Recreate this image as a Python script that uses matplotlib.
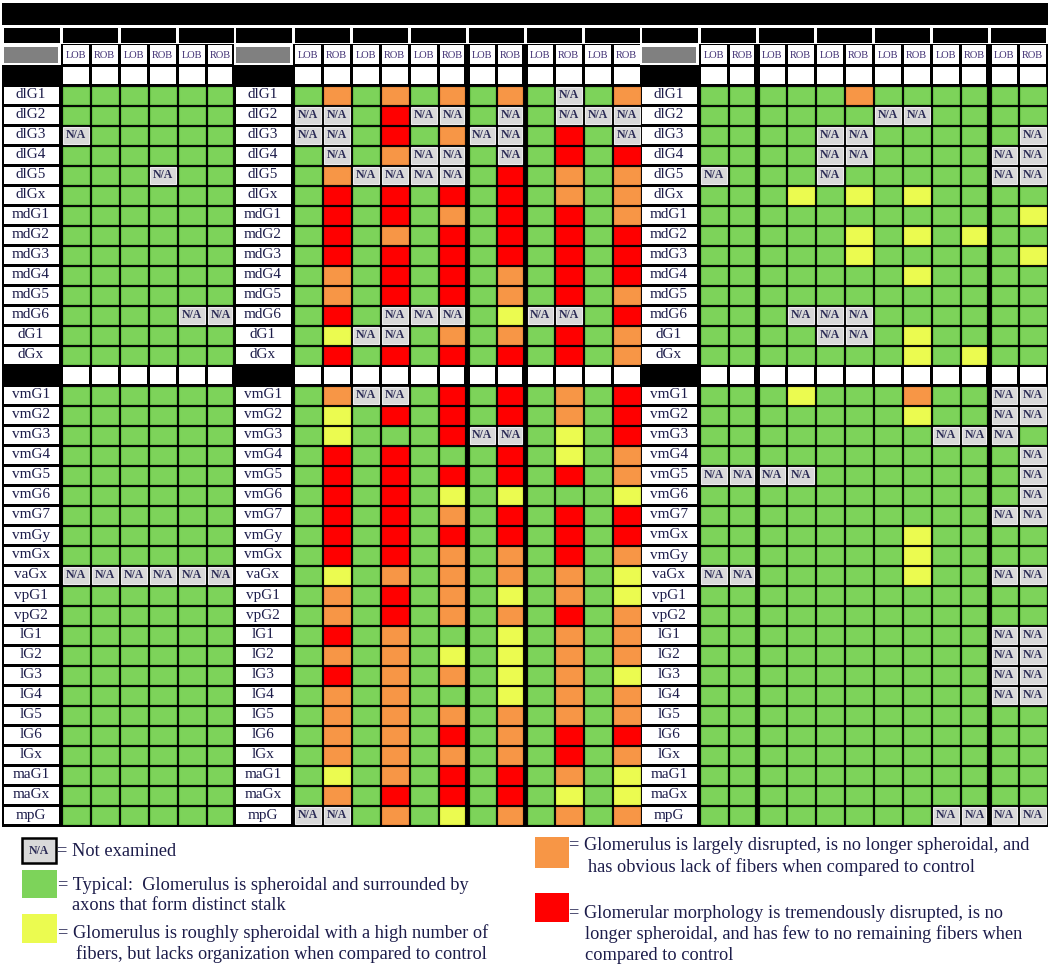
"""Glomerulus morphology scoring table (LOB/ROB per animal) with colour legend."""
import matplotlib.pyplot as plt
from matplotlib.patches import Rectangle

# row labels; the right panel lists vmGx before vmGy
ROWS_TOP = ["dlG1", "dlG2", "dlG3", "dlG4", "dlG5", "dlGx", "mdG1", "mdG2", "mdG3",
            "mdG4", "mdG5", "mdG6", "dG1", "dGx"]
ROWS_BOT = ["vmG1", "vmG2", "vmG3", "vmG4", "vmG5", "vmG6", "vmG7", "vmGy", "vmGx",
            "vaGx", "vpG1", "vpG2", "lG1", "lG2", "lG3", "lG4", "lG5", "lG6", "lGx",
            "maG1", "maGx", "mpG"]
ROWS_BOT_RIGHT = ["vmG1", "vmG2", "vmG3", "vmG4", "vmG5", "vmG6", "vmG7", "vmGx", "vmGy",
                  "vaGx", "vpG1", "vpG2", "lG1", "lG2", "lG3", "lG4", "lG5", "lG6", "lGx",
                  "maG1", "maGx", "mpG"]
SUBCOLS = ["LOB", "ROB"]

# G typical, Y roughly spheroidal, O largely disrupted, R tremendously disrupted, N not examined
LEFT = ["GGGGGG", "GGGGGG", "NGGGGG", "GGGGGG", "GGGNGG", "GGGGGG", "GGGGGG",
        "GGGGGG", "GGGGGG", "GGGGGG", "GGGGGG", "GGGGNN", "GGGGGG", "GGGGGG",
        "GGGGGG", "GGGGGG", "GGGGGG", "GGGGGG", "GGGGGG", "GGGGGG", "GGGGGG",
        "GGGGGG", "GGGGGG", "NNNNNN", "GGGGGG", "GGGGGG", "GGGGGG", "GGGGGG",
        "GGGGGG", "GGGGGG", "GGGGGG", "GGGGGG", "GGGGGG", "GGGGGG", "GGGGGG", "GGGGGG"]
MID = ["GOGOGOGOGNGO", "NNGRNNGNGNNN", "NNGRGONNGRGN", "GNGONNGNGRGR", "GONNNNGRGOGO",
       "GRGRGRGRGOGO", "GRGRGOGRGRGO", "GRGOGRGRGRGR", "GRGRGRGRGRGR", "GOGRGRGOGRGR",
       "GOGRGRGOGRGO", "GRGNNNGYNNGR", "GYNNGOGOGRGO", "GRGRGRGRGRGO",
       "GONNGRGRGOGR", "GYGRGRGRGOGR", "GYGGGRNNGYGR", "GRGRGGGRGYGO", "GRGRGRGRGRGO",
       "GRGRGYGYGGGY", "GRGRGOGRGRGR", "GRGRGRGRGRGR", "GRGRGOGOGRGO", "GYGOGOGOGOGY",
       "GOGRGOGYGOGY", "GOGRGOGOGRGO", "GRGOGGGYGOGO", "GOGOGYGYGOGO", "GRGOGOGYGOGY",
       "GOGOGGGYGOGO", "GOGOGOGOGOGO", "GOGOGRGOGRGR", "GOGOGOGOGRGO", "GYGOGRGRGOGY",
       "GOGRGRGRGYGY", "NNGOGYGOGOGO"]
RIGHT = ["GGGGGOGGGGGG", "GGGGGGNNGGGG", "GGGGNNGGGGGN", "GGGGNNGGGGNN", "NGGGNGGGGGNN",
         "GGGYGYGYGGGG", "GGGGGGGGGGGY", "GGGGGYGYGYGG", "GGGGGYGGGGGY", "GGGGGGGYGGGG",
         "GGGGGGGGGGGG", "GGGNNNGGGGGG", "GGGGNNGYGGGG", "GGGGGGGYGYGG",
         "GGGYGGGOGGNN", "GGGGGGGYGGNN", "GGGGGGGGNNNG", "GGGGGGGGGGGN", "NNNNGGGGGGGN",
         "GGGGGGGGGGGN", "GGGGGGGGGGNN", "GGGGGGGYGGGG", "GGGGGGGYGGGG", "NNGGGGGYGGNN",
         "GGGGGGGGGGGG", "GGGGGGGGGGGG", "GGGGGGGGGGNN", "GGGGGGGGGGNN", "GGGGGGGGGGNN",
         "GGGGGGGGGGNN", "GGGGGGGGGGGG", "GGGGGGGGGGGG", "GGGGGGGGGGGG", "GGGGGGGGGGGG",
         "GGGGGGGGGGGG", "GGGGGGGGNNNN"]

LEGEND = [("N", ["= Not examined"]),
          ("G", ["= Typical:  Glomerulus is spheroidal and surrounded by",
                 "axons that form distinct stalk"]),
          ("Y", ["= Glomerulus is roughly spheroidal with a high number of",
                 "fibers, but lacks organization when compared to control"]),
          ("O", ["= Glomerulus is largely disrupted, is no longer spheroidal, and",
                 "has obvious lack of fibers when compared to control"]),
          ("R", ["= Glomerular morphology is tremendously disrupted, is no",
                 "longer spheroidal, and has few to no remaining fibers when",
                 "compared to control"])]

COL = {"G": "#7dd35a", "Y": "#ebfb50", "O": "#f79646", "R": "#ff0000", "N": "#d9d9d9"}
EDGE = {"G": "#66bf45", "Y": "#d8e840", "O": "#e8863a", "R": "#e80000", "N": "#ececec"}
INK = "#1c1c4a"
SERIF = ["Liberation Serif", "DejaVu Serif"]

# geometry, in pixels
X0, LABEL_W, CELL_W = 3, 58, 29
Y_DATA, ROW_H, GAP_ROW = 85, 20, 14
HEAVY = {(0, 5), (1, 5), (1, 7), (2, 1), (2, 9)}   # (panel, col) with a heavy right rule

fig = plt.figure(figsize=(10.5, 9.67), dpi=100)
ax = fig.add_axes([0, 0, 1, 1])
ax.set_xlim(0, 1050); ax.set_ylim(967, 0); ax.axis("off")


def box(x, y, w, h, fc, ec="none", lw=0, z=2):
    ax.add_patch(Rectangle((x, y), w, h, facecolor=fc, edgecolor=ec, lw=lw, zorder=z))


def row_top(i):
    return Y_DATA + ROW_H * (i if i < GAP_ROW else i + 1)


panels = [(LEFT, ROWS_TOP + ROWS_BOT), (MID, ROWS_TOP + ROWS_BOT), (RIGHT, ROWS_TOP + ROWS_BOT_RIGHT)]
n_rows = len(ROWS_TOP) + len(ROWS_BOT)
y_end = row_top(n_rows)

# black frame: title band + grid background
box(2, 3, 1046, 22, "black", z=1)
box(2, 44, 1046, y_end + 2 - 44, "black", z=1)

x = X0
for p, (data, labels) in enumerate(panels):
    ncol = len(data[0]); xc = x + LABEL_W
    # header: blank black group blocks, grey corner, LOB/ROB
    box(x + 1, 28, LABEL_W - 2.5, 15, "black")
    for k in range(ncol // 2):
        box(xc + 2 * k * CELL_W + 1.5, 28, 2 * CELL_W - 3, 15, "black")
    box(x - 1, 44, LABEL_W + 0.5, 21, "white")
    box(x + 0.5, 47, LABEL_W - 3.5, 16, "#808080")
    for j in range(ncol):
        il = 3 if (p, j - 1) in HEAVY else 1.5
        ir = 3 if (p, j) in HEAVY else 1.5
        cx = xc + j * CELL_W
        box(cx + il, 45, CELL_W - il - ir, 19, "white")
        ax.text(cx + CELL_W / 2, 55, SUBCOLS[j % 2], ha="center", va="center", fontsize=7.5,
                family=SERIF, color="#3b2a70", zorder=3)
        box(cx + il, 67, CELL_W - il - ir, 16.5, "white")
        box(cx + il, row_top(GAP_ROW - 1) + ROW_H + 1.5, CELL_W - il - ir, 17, "white")
    # data rows
    for i, (lab, states) in enumerate(zip(labels, data)):
        y = row_top(i)
        box(x + 1, y + 1.5, LABEL_W - 3.5, ROW_H - 3, "white")
        ax.text(x + LABEL_W / 2 - 1, y + ROW_H / 2, lab, ha="center", va="center",
                fontsize=11, family=SERIF, color=INK, zorder=3)
        for j, s in enumerate(states):
            il = 3 if (p, j - 1) in HEAVY else 1.5
            ir = 3 if (p, j) in HEAVY else 1.5
            cx = xc + j * CELL_W
            box(cx + il, y + 1.5, CELL_W - il - ir, ROW_H - 3, COL[s], ec=EDGE[s], lw=0.8)
            if s == "N":
                ax.text(cx + CELL_W / 2, y + ROW_H / 2 + 0.5, "N/A", ha="center", va="center",
                        fontsize=8.5, weight="bold", family=SERIF, color="#2b2b55", zorder=3)
    x = xc + ncol * CELL_W

# legend
LEG_POS = [(22, 838, 34, 25, 57, 851, 0), (22, 870, 35, 28, 58, 885, 72),
           (22, 914, 35, 29, 58, 933, 76), (535, 837, 34, 31, 569, 846, 588),
           (535, 893, 34, 29, 569, 913, 585)]
for (s, lines), (bx, by, bw, bh, tx, ty, tx2) in zip(LEGEND, LEG_POS):
    if s == "N":
        box(bx, by, bw, bh, COL[s], ec="black", lw=1.8)
        ax.text(bx + bw / 2, by + bh / 2 + 1, "N/A", ha="center", va="center", fontsize=8.5,
                weight="bold", family=SERIF, color="#2b2b55", zorder=3)
    else:
        box(bx, by, bw, bh, COL[s])
    for k, line in enumerate(lines):
        ax.text(tx if k == 0 else tx2, ty + 21 * k, line, ha="left", va="center",
                fontsize=13.2, family=SERIF, color=INK)

fig.savefig("out.png", dpi=100)
